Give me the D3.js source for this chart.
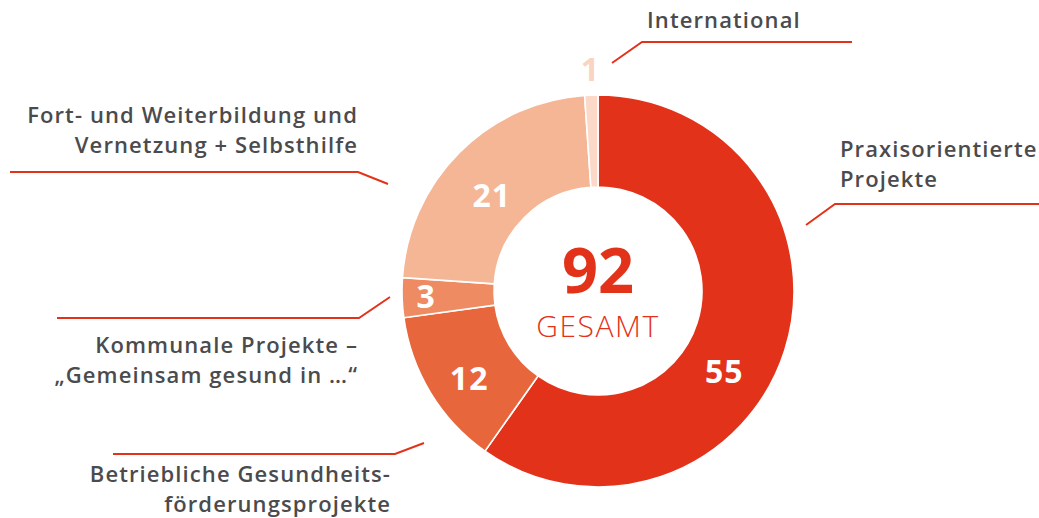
<!DOCTYPE html>
<html>
<head>
<meta charset="utf-8">
<script src="https://cdn.jsdelivr.net/npm/d3@7"></script>
<style>
  body { margin: 0; background: #fff; }
  svg text { font-family: "Open Sans", sans-serif; }
</style>
</head>
<body>
<div id="chart"></div>
<script>
const width = 1039;
const height = 518;

// data, clockwise from 12 o'clock
const categories = [
    "Praxisorientierte Projekte",
    "Betriebliche Gesundheitsförderungsprojekte",
    "Kommunale Projekte – „Gemeinsam gesund in …“",
    "Fort- und Weiterbildung und Vernetzung + Selbsthilfe",
    "International"
];
const values = [55, 12, 3, 21, 1];
const total = 92;
const totalLabel = "GESAMT";

const sliceColors = ["#e3321a", "#e8663c", "#ef8b62", "#f5b696", "#fbd8c8"];
const red = "#e3321a";
const textColor = "#4b4b4d";

const cx = 598, cy = 291;
const outerRadius = 196;
const innerRadius = 104;

// label text lines + leader line layout, one per slice
const callouts = [
    { lines: ["Praxisorientierte", "Projekte"], anchor: "start", tx: 840, ty: 157,
      path: [[806, 225], [835, 204], [1039, 204]] },
    { lines: ["Betriebliche Gesundheits-", "förderungsprojekte"], anchor: "end", tx: 391, ty: 482,
      path: [[424, 443], [395, 454], [113, 454]] },
    { lines: ["Kommunale Projekte –", "„Gemeinsam gesund in …“"], anchor: "end", tx: 358, ty: 353,
      path: [[390, 297], [359, 318], [57, 318]] },
    { lines: ["Fort- und Weiterbildung und", "Vernetzung + Selbsthilfe"], anchor: "end", tx: 358, ty: 123,
      path: [[388, 184], [358, 172], [10, 172]] },
    { lines: ["International"], anchor: "start", tx: 647, ty: 28,
      path: [[612, 63], [642, 42], [852, 42]] }
];

// where the value numbers sit (angle shift in degrees, radius)
const valueLabelPos = [
    { shift: 15, r: 150 },
    { shift: -3, r: 156 },
    { shift: 0, r: 172 },
    { shift: -3, r: 143 },
    { shift: 0, r: 222 }
];

const svg = d3.select("#chart")
    .append("svg")
        .attr("width", width)
        .attr("height", height)

const pie = d3.pie().sort(null).value(d => d);
const arcs = pie(values);

const arc = d3.arc()
    .innerRadius(innerRadius)
    .outerRadius(outerRadius);

const g = svg.append("g")
    .attr("transform", "translate(" + cx + "," + cy + ")")

g.selectAll("path.slice")
    .data(arcs)
    .enter()
    .append("path")
        .attr("class", "slice")
        .attr("d", arc)
        .attr("fill", (d, i) => sliceColors[i])
        .attr("stroke", "#fff")
        .attr("stroke-width", 1.6)

// numbers in / next to slices
g.selectAll("text.value")
    .data(arcs)
    .enter()
    .append("text")
        .attr("class", "value")
        .attr("transform", (d, i) => {
            const p = valueLabelPos[i];
            const a = (d.startAngle + d.endAngle) / 2 + p.shift * Math.PI / 180;
            const pt = d3.pointRadial(a, p.r);
            return "translate(" + pt[0] + "," + pt[1] + ")";
        })
        .attr("text-anchor", "middle")
        .attr("dy", "0.36em")
        .attr("font-size", 32)
        .attr("font-weight", 700)
        .attr("letter-spacing", 1)
        .attr("fill", (d, i) => i === values.length - 1 ? "#fad4c2" : "#fff")
        .text(d => d.data)

// centre total
g.append("text")
    .attr("text-anchor", "middle")
    .attr("y", 2)
    .attr("font-size", 63)
    .attr("font-weight", 700)
    .attr("fill", red)
    .text(total)

g.append("text")
    .attr("text-anchor", "middle")
    .attr("y", 46)
    .attr("font-size", 30)
    .attr("font-weight", 300)
    .attr("letter-spacing", 1.5)
    .attr("fill", red)
    .text(totalLabel)

// leader lines
const line = d3.line();
svg.selectAll("path.leader")
    .data(callouts)
    .enter()
    .append("path")
        .attr("class", "leader")
        .attr("d", d => line(d.path))
        .attr("fill", "none")
        .attr("stroke", red)
        .attr("stroke-width", 2)

// category labels
const labels = svg.selectAll("text.cat")
    .data(callouts)
    .enter()
    .append("text")
        .attr("class", "cat")
        .attr("text-anchor", d => d.anchor)
        .attr("font-size", 22)
        .attr("font-weight", 600)
        .attr("letter-spacing", 1.1)
        .attr("fill", textColor)

labels.selectAll("tspan")
    .data(d => d.lines.map((t, i) => ({ t: t, x: d.tx, y: d.ty + i * 30 })))
    .enter()
    .append("tspan")
        .attr("x", d => d.x)
        .attr("y", d => d.y)
        .text(d => d.t)
</script>
</body>
</html>
